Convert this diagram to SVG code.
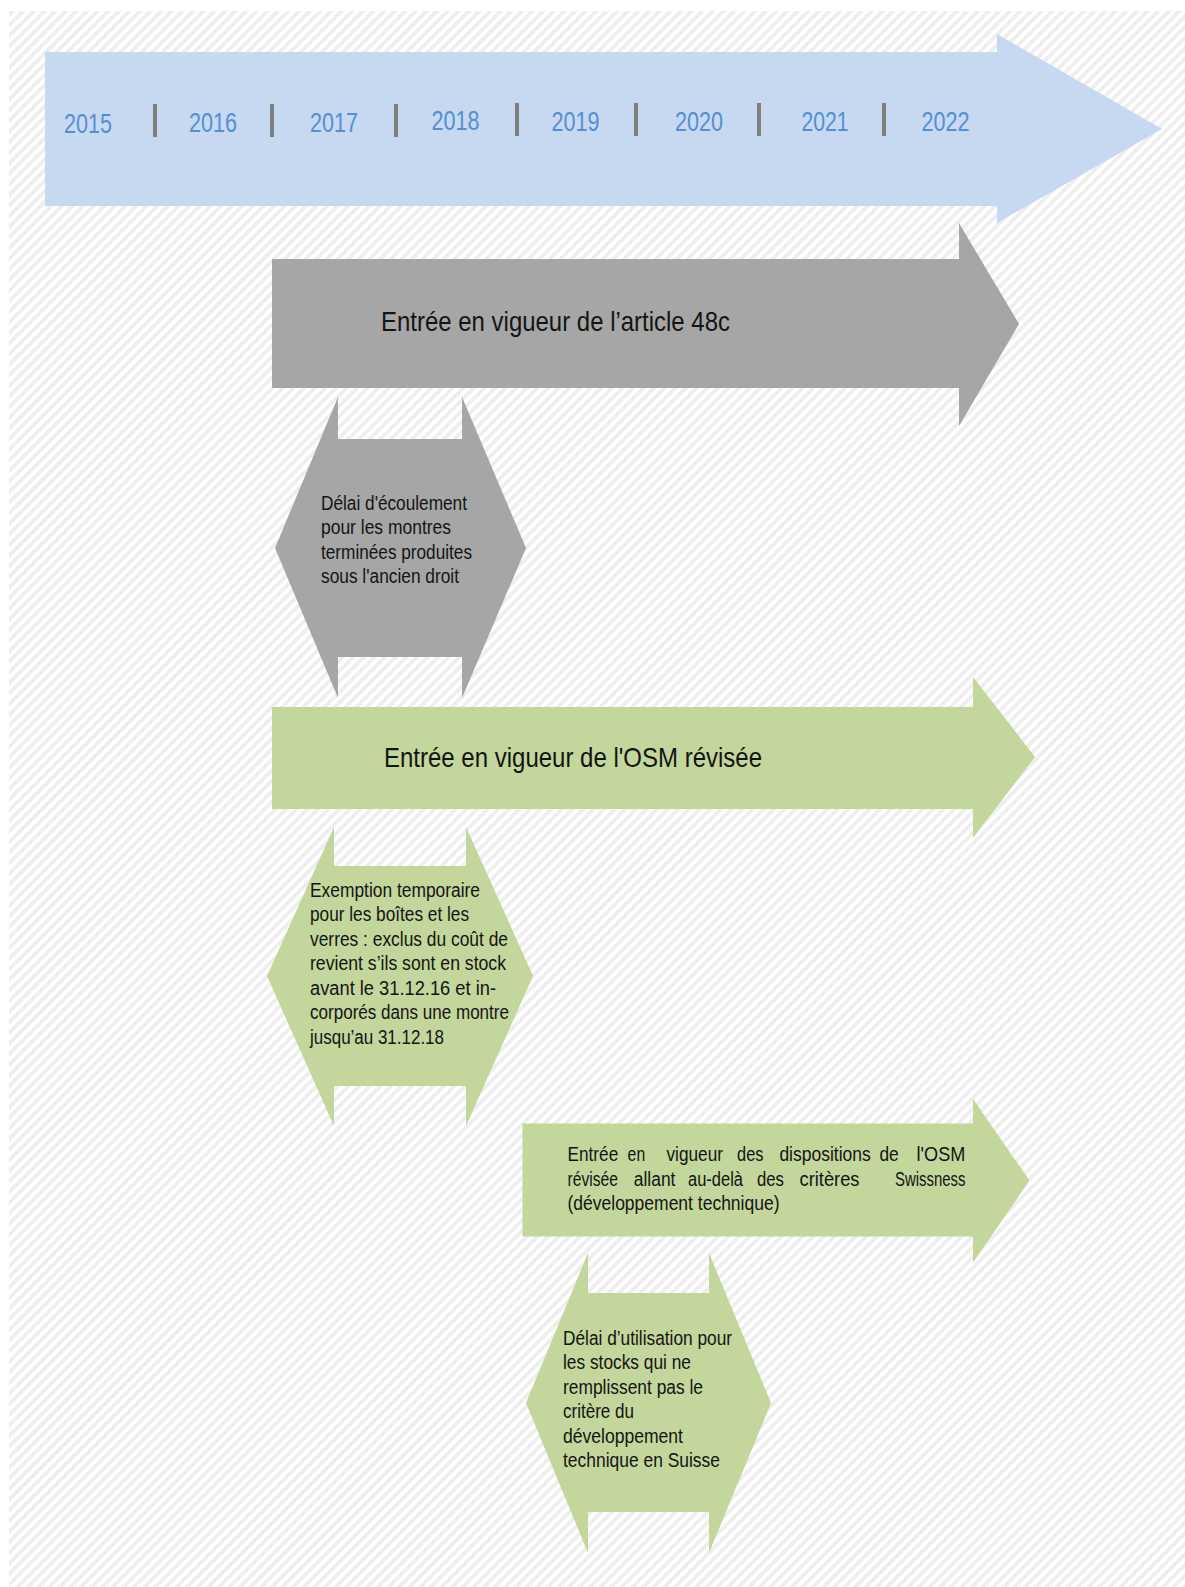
<svg xmlns="http://www.w3.org/2000/svg" width="1185" height="1587" viewBox="0 0 1185 1587">
  <defs>
    <pattern id="hatch" patternUnits="userSpaceOnUse" width="7.5" height="7.5" patternTransform="rotate(45)">
      <rect x="0" y="0" width="7.5" height="7.5" fill="#ffffff"/>
      <rect x="0" y="0" width="3.8" height="7.5" fill="#eeeeee"/>
    </pattern>
    <style>
      .t { font-family: "Liberation Sans", Arial, sans-serif; fill: #141414; }
      .yr { font-family: "Liberation Sans", Arial, sans-serif; fill: #558ed5; font-size: 28px; text-anchor: middle; }
      .big { font-size: 28px; }
      .sm { font-size: 19.5px; }
      .sep { fill: #7f7f7f; }
      .blue { fill: #c6d9f0; }
      .gray { fill: #a6a6a6; }
      .green { fill: #c3d69b; }
    </style>
  </defs>

  <rect x="0" y="0" width="1185" height="1587" fill="#ffffff"/>
  <rect x="9" y="11" width="1176" height="1576" fill="url(#hatch)"/>

  <g id="timeline">
    <polygon class="blue" points="45,52 997,52 997,34 1162,129 997,223 997,206 45,206"/>
    <text class="yr" x="88" y="133" textLength="48" lengthAdjust="spacingAndGlyphs">2015</text>
    <rect class="sep" x="153" y="104" width="4" height="33"/>
    <text class="yr" x="213" y="132" textLength="48" lengthAdjust="spacingAndGlyphs">2016</text>
    <rect class="sep" x="270" y="104" width="4" height="33"/>
    <text class="yr" x="334" y="132" textLength="48" lengthAdjust="spacingAndGlyphs">2017</text>
    <rect class="sep" x="394" y="104" width="4" height="33"/>
    <text class="yr" x="455.5" y="129.5" textLength="48" lengthAdjust="spacingAndGlyphs">2018</text>
    <rect class="sep" x="515" y="103" width="4" height="33"/>
    <text class="yr" x="575.5" y="130.5" textLength="48" lengthAdjust="spacingAndGlyphs">2019</text>
    <rect class="sep" x="634" y="103" width="4" height="33"/>
    <text class="yr" x="699" y="130.5" textLength="48" lengthAdjust="spacingAndGlyphs">2020</text>
    <rect class="sep" x="757" y="103" width="4" height="33"/>
    <text class="yr" x="825" y="131" textLength="47" lengthAdjust="spacingAndGlyphs">2021</text>
    <rect class="sep" x="882" y="103" width="4" height="33"/>
    <text class="yr" x="945.5" y="131" textLength="48" lengthAdjust="spacingAndGlyphs">2022</text>
  </g>

  <g id="article48c">
    <polygon class="gray" points="272,259 959,259 959,223 1019,324 959,426 959,388 272,388"/>
    <text class="t big" x="381" y="331" textLength="349" lengthAdjust="spacingAndGlyphs">Entrée en vigueur de l’article 48c</text>
  </g>

  <g id="delai-ecoulement">
    <polygon class="gray" points="338,397 338,439 462,439 462,397 526,548 462,698 462,657 338,657 338,698 275,548"/>
    <text class="t sm" x="321" y="509.5" textLength="146" lengthAdjust="spacingAndGlyphs">Délai d'écoulement</text>
    <text class="t sm" x="321" y="534" textLength="130" lengthAdjust="spacingAndGlyphs">pour les montres</text>
    <text class="t sm" x="321" y="558.5" textLength="151" lengthAdjust="spacingAndGlyphs">terminées produites</text>
    <text class="t sm" x="321" y="583" textLength="138" lengthAdjust="spacingAndGlyphs">sous l'ancien droit</text>
  </g>

  <g id="osm-revisee">
    <polygon class="green" points="272,707 973,707 973,677 1035,757 973,838 973,809 272,809"/>
    <text class="t big" x="384" y="767" textLength="378" lengthAdjust="spacingAndGlyphs">Entrée en vigueur de l'OSM révisée</text>
  </g>

  <g id="exemption-temporaire">
    <polygon class="green" points="334,827 334,866 466,866 466,827 533,976 466,1126 466,1086 334,1086 334,1126 267,976"/>
    <text class="t sm" x="310" y="896.5" textLength="170" lengthAdjust="spacingAndGlyphs">Exemption temporaire</text>
    <text class="t sm" x="310" y="921" textLength="159" lengthAdjust="spacingAndGlyphs">pour les boîtes et les</text>
    <text class="t sm" x="310" y="945.5" textLength="198" lengthAdjust="spacingAndGlyphs">verres : exclus du coût de</text>
    <text class="t sm" x="310" y="970" textLength="196" lengthAdjust="spacingAndGlyphs">revient s’ils sont en stock</text>
    <text class="t sm" x="310" y="994.5" textLength="186" lengthAdjust="spacingAndGlyphs">avant le 31.12.16 et in-</text>
    <text class="t sm" x="310" y="1019" textLength="199" lengthAdjust="spacingAndGlyphs">corporés dans une montre</text>
    <text class="t sm" x="310" y="1043.5" textLength="134" lengthAdjust="spacingAndGlyphs">jusqu’au 31.12.18</text>
  </g>

  <g id="developpement-technique">
    <polygon class="green" points="522.5,1123.5 973,1123.5 973,1099 1029.5,1180.5 973,1262.5 973,1236.5 522.5,1236.5"/>
    <text class="t sm" x="567.5" y="1161" textLength="50.7" lengthAdjust="spacingAndGlyphs">Entrée</text>
    <text class="t sm" x="627.6" y="1161" textLength="17.6" lengthAdjust="spacingAndGlyphs">en</text>
    <text class="t sm" x="666.5" y="1161" textLength="56.5" lengthAdjust="spacingAndGlyphs">vigueur</text>
    <text class="t sm" x="737.1" y="1161" textLength="26.4" lengthAdjust="spacingAndGlyphs">des</text>
    <text class="t sm" x="779.4" y="1161" textLength="91.3" lengthAdjust="spacingAndGlyphs">dispositions</text>
    <text class="t sm" x="879.4" y="1161" textLength="19.3" lengthAdjust="spacingAndGlyphs">de</text>
    <text class="t sm" x="916.6" y="1161" textLength="48.7" lengthAdjust="spacingAndGlyphs">l'OSM</text>
    <text class="t sm" x="567.5" y="1185.5" textLength="50.5" lengthAdjust="spacingAndGlyphs">révisée</text>
    <text class="t sm" x="633.8" y="1185.5" textLength="41.6" lengthAdjust="spacingAndGlyphs">allant</text>
    <text class="t sm" x="688" y="1185.5" textLength="55" lengthAdjust="spacingAndGlyphs">au-delà</text>
    <text class="t sm" x="757" y="1185.5" textLength="27" lengthAdjust="spacingAndGlyphs">des</text>
    <text class="t sm" x="799.5" y="1185.5" textLength="60" lengthAdjust="spacingAndGlyphs">critères</text>
    <text class="t sm" x="895" y="1185.5" textLength="70.5" lengthAdjust="spacingAndGlyphs">Swissness</text>
    <text class="t sm" x="567.5" y="1210" textLength="212" lengthAdjust="spacingAndGlyphs">(développement technique)</text>
  </g>

  <g id="delai-utilisation">
    <polygon class="green" points="588,1253 588,1293 709,1293 709,1253 771,1403 709,1553 709,1512 588,1512 588,1553 526,1403"/>
    <text class="t sm" x="563" y="1345" textLength="169" lengthAdjust="spacingAndGlyphs">Délai d’utilisation pour</text>
    <text class="t sm" x="563" y="1369.4" textLength="128" lengthAdjust="spacingAndGlyphs">les stocks qui ne</text>
    <text class="t sm" x="563" y="1393.8" textLength="140" lengthAdjust="spacingAndGlyphs">remplissent pas le</text>
    <text class="t sm" x="563" y="1418.2" textLength="71" lengthAdjust="spacingAndGlyphs">critère du</text>
    <text class="t sm" x="563" y="1442.6" textLength="120" lengthAdjust="spacingAndGlyphs">développement</text>
    <text class="t sm" x="563" y="1467" textLength="157" lengthAdjust="spacingAndGlyphs">technique en Suisse</text>
  </g>

  <g id="connectors"></g>
</svg>
